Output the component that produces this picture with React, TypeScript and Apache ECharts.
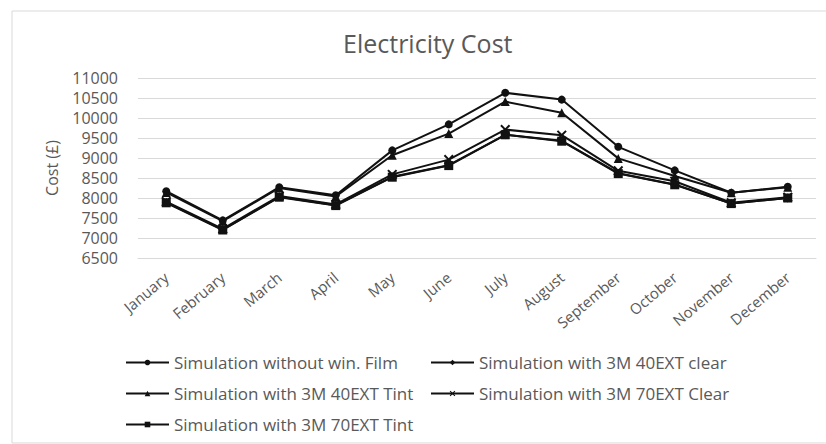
import React, { useEffect, useRef } from "react";
import * as echarts from "echarts";

const months = ["January", "February", "March", "April", "May", "June", "July", "August", "September", "October", "November", "December"];
const seriesNames = [
  "Simulation without win. Film",
  "Simulation with 3M 40EXT clear",
  "Simulation with 3M 40EXT Tint",
  "Simulation with 3M 70EXT Clear",
  "Simulation with 3M 70EXT Tint",
];
const noFilm = [8170, 7440, 8270, 8070, 9190, 9840, 10630, 10460, 9280, 8690, 8130, 8280];
const clear40 = [7890, 7210, 8030, 7820, 8530, 8820, 9580, 9430, 8620, 8340, 7860, 8000];
const tint40 = [8140, 7420, 8250, 8040, 9070, 9610, 10410, 10130, 8990, 8550, 8130, 8270];
const clear70 = [7910, 7230, 8050, 7840, 8590, 8960, 9710, 9570, 8680, 8420, 7880, 8020];
const tint70 = [7880, 7200, 8020, 7810, 8520, 8810, 9580, 9420, 8610, 8330, 7860, 8000];
const yTicks = { min: 6500, max: 11000, interval: 500 };

const X_PATH = "path://M0,1.4L1.4,0L5,3.6L8.6,0L10,1.4L6.4,5L10,8.6L8.6,10L5,6.4L1.4,10L0,8.6L3.6,5Z";
const symbols = ["circle", "diamond", "triangle", X_PATH, "rect"];
const sizes = [8, 9, 9, 10, 9];
const values = [noFilm, clear40, tint40, clear70, tint70];

const legendPos = [
  { left: 125, top: 354 },
  { left: 430, top: 354 },
  { left: 125, top: 385 },
  { left: 430, top: 385 },
  { left: 125, top: 416 },
];

export default function App() {
  const ref = useRef<HTMLDivElement>(null);
  useEffect(() => {
    const chart = echarts.init(ref.current!, undefined, { renderer: "svg" });
    const gray = "#595959";
    const font = "Open Sans";
    chart.setOption({
      animation: false,
      backgroundColor: "#fff",
      title: {
        text: "Electricity Cost",
        left: 338,
        top: 25,
        textStyle: { fontFamily: font, fontSize: 25, fontWeight: "normal", color: gray },
      },
      graphic: [
        {
          type: "rect",
          shape: { x: 12, y: 11, width: 830, height: 432 },
          style: { fill: "none", stroke: "#d9d9d9", lineWidth: 1 },
          silent: true,
        },
      ],
      legend: seriesNames.map((n, i) => ({
        data: [n],
        left: legendPos[i].left,
        top: legendPos[i].top,
        itemWidth: 43,
        itemHeight: 7,
        textStyle: { fontFamily: font, fontSize: 17, color: gray },
        padding: 0,
      })),
      grid: { left: 138, right: 10, top: 78, bottom: 186, containLabel: false },
      xAxis: {
        type: "category",
        data: months,
        boundaryGap: true,
        axisLine: { lineStyle: { color: "#d9d9d9" } },
        axisTick: { show: false },
        axisLabel: { rotate: 40, color: gray, fontFamily: font, fontSize: 15, margin: 17, interval: 0 },
      },
      yAxis: {
        type: "value",
        min: yTicks.min,
        max: yTicks.max,
        interval: yTicks.interval,
        name: "Cost (£)",
        nameLocation: "middle",
        nameRotate: 90,
        nameGap: 78,
        nameTextStyle: { fontFamily: font, fontSize: 16, color: gray },
        axisLine: { show: false },
        axisTick: { show: false },
        axisLabel: { color: gray, fontFamily: font, fontSize: 16, margin: 20, formatter: (v: number) => String(v) },
        splitLine: { lineStyle: { color: "#d9d9d9", width: 1 } },
      },
      series: seriesNames.map((n, i) => ({
        name: n,
        type: "line",
        data: values[i],
        symbol: symbols[i],
        symbolSize: sizes[i],
        showSymbol: true,
        itemStyle: { color: "#111" },
        lineStyle: { color: "#111", width: 2 },
      })),
    });
    return () => chart.dispose();
  }, []);
  return <div ref={ref} style={{ position: "fixed", left: 0, top: 0, width: 826, height: 444 }} />;
}
